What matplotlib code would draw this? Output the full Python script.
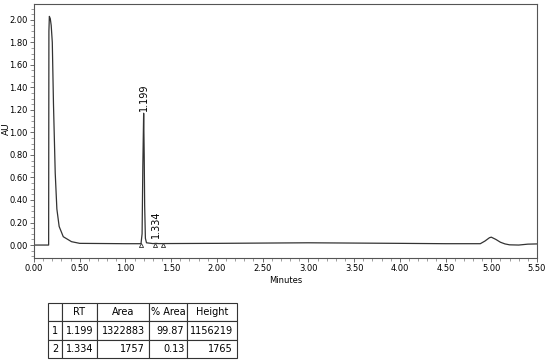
import numpy as np
import matplotlib
matplotlib.use("Agg")
import matplotlib.pyplot as plt
from matplotlib.ticker import MultipleLocator, FormatStrFormatter

# trace (minutes, AU)
t = [0.00, 0.160, 0.163, 0.168, 0.178, 0.188, 0.200, 0.213, 0.232, 0.250, 0.275,
     0.320, 0.410, 0.500, 1.000, 1.170, 1.182, 1.190, 1.199, 1.205, 1.210, 1.218,
     1.230, 1.300, 1.334, 1.360, 2.000, 3.000, 4.000, 4.500, 4.880, 4.930, 4.980,
     5.000, 5.050, 5.100, 5.150, 5.200, 5.300, 5.400, 5.500]
au = [0.000, 0.000, 1.900, 2.030, 2.010, 1.950, 1.800, 1.250, 0.640, 0.320, 0.165,
      0.074, 0.030, 0.015, 0.012, 0.012, 0.100, 0.700, 1.170, 0.800, 0.350, 0.060,
      0.020, 0.013, 0.015, 0.013, 0.015, 0.020, 0.015, 0.012, 0.012, 0.035, 0.065,
      0.070, 0.050, 0.025, 0.010, 0.002, 0.000, 0.008, 0.010]

peak_rt = [1.199, 1.334]
peak_lbl = ["1.199", "1.334"]
peak_lbl_y = [1.19, 0.06]
marks_t = [1.17, 1.32, 1.41]

col_labels = ["", "RT", "Area", "% Area", "Height"]
rows = [["1", "1.199", "1322883", "99.87", "1156219"],
        ["2", "1.334", "1757", "0.13", "1765"]]

fig = plt.figure(figsize=(5.5, 3.62), dpi=100)
ax = fig.add_axes([34/550, 1-258/362, (537-34)/550, (258-4)/362])

ax.plot(t, au, color="#333333", lw=0.9)
ax.plot(marks_t, [-0.002]*len(marks_t), ls="none", marker="^", ms=3,
        mfc="white", mec="#333333", mew=0.6)
for x, s, y in zip(peak_rt, peak_lbl, peak_lbl_y):
    ax.text(x, y, s, rotation=90, ha="center", va="bottom", fontsize=7)

ax.set_xlim(0, 5.5)
ax.set_ylim(-0.115, 2.14)
ax.xaxis.set_major_locator(MultipleLocator(0.5))
ax.xaxis.set_minor_locator(MultipleLocator(0.1))
ax.yaxis.set_major_locator(MultipleLocator(0.2))
ax.yaxis.set_minor_locator(MultipleLocator(0.05))
ax.xaxis.set_major_formatter(FormatStrFormatter("%.2f"))
ax.yaxis.set_major_formatter(FormatStrFormatter("%.2f"))
ax.tick_params(which="major", length=3, width=0.6, labelsize=6, color="#555555", pad=1.5)
ax.tick_params(which="minor", length=2, width=0.5, color="#777777")
for sp in ax.spines.values():
    sp.set_color("#555555")
    sp.set_linewidth(0.8)
ax.set_xlabel("Minutes", fontsize=6, labelpad=2)
# y label placed by hand so it sits left of the tick labels
fig.text(6/550, 1-129/362, "AU", rotation=90, ha="center", va="center", fontsize=6.5)

tax = fig.add_axes([48.3/550, 1-358.3/362, 188.4/550, 55.6/362])
tax.axis("off")
widths = np.array([13.3, 35, 52.7, 38, 49.3])
tb = tax.table(cellText=rows, colLabels=col_labels, colWidths=list(widths/widths.sum()),
               bbox=[0, 0, 1, 1], cellLoc="right")
tb.auto_set_font_size(False)
tb.set_fontsize(7)
for (r, c), cell in tb.get_celld().items():
    cell.set_linewidth(0.8)
    cell.set_edgecolor("#333333")
    if r == 0 or c == 0:
        cell.set_text_props(ha="center")
        cell._loc = "center"
    cell.PAD = 0.08

fig.savefig("out.png", dpi=100)
